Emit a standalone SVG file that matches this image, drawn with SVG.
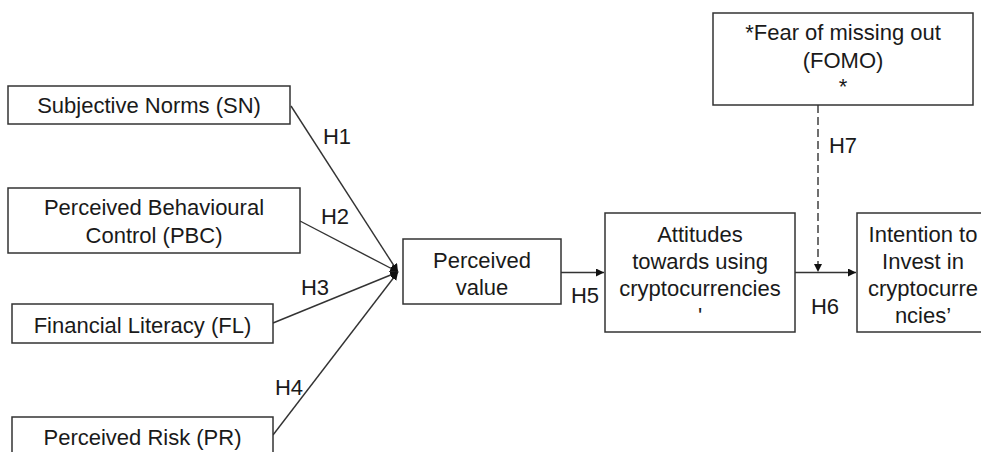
<svg xmlns="http://www.w3.org/2000/svg" width="981" height="452" viewBox="0 0 981 452">
<style>
.box{fill:#fff;stroke:#333;stroke-width:1.5}
.t{font-family:"Liberation Sans",Arial,sans-serif;font-size:22px;fill:#1a1a1a;text-anchor:middle}
.ln{stroke:#333;stroke-width:1.4;fill:none}
.dash{stroke:#333;stroke-width:1.4;fill:none;stroke-dasharray:8,4}
</style>
<defs>
<marker id="ah" viewBox="0 0 10 10" refX="10" refY="5" markerWidth="8" markerHeight="8" markerUnits="userSpaceOnUse" orient="auto">
<path d="M0,0 L10,5 L0,10 z" fill="#111"/>
</marker>
</defs>
<rect width="981" height="452" fill="#fff"/>
<g id="connectors">
<line class="ln" x1="291" y1="106" x2="398" y2="272" marker-end="url(#ah)"/>
<line class="ln" x1="300" y1="221" x2="398" y2="272" marker-end="url(#ah)"/>
<line class="ln" x1="273" y1="323" x2="398" y2="272" marker-end="url(#ah)"/>
<line class="ln" x1="273" y1="435" x2="398" y2="272" marker-end="url(#ah)"/>
<line class="ln" x1="561" y1="272.5" x2="604" y2="272.5" marker-end="url(#ah)"/>
<line class="ln" x1="795" y1="272.5" x2="856" y2="272.5" marker-end="url(#ah)"/>
<line class="dash" x1="818" y1="105" x2="818" y2="272" marker-end="url(#ah)"/>
<text class="t" x="337" y="144">H1</text>
<text class="t" x="335" y="224">H2</text>
<text class="t" x="315" y="295">H3</text>
<text class="t" x="289" y="395">H4</text>
<text class="t" x="585" y="303">H5</text>
<text class="t" x="825" y="314">H6</text>
<text class="t" x="843" y="153">H7</text>
</g>
<g id="sn">
<rect class="box" x="8" y="86" width="282" height="38"/>
<text class="t" x="149" y="113">Subjective Norms (SN)</text>
</g>
<g id="pbc">
<rect class="box" x="8" y="188" width="292" height="65"/>
<text class="t" x="154" y="215">Perceived Behavioural</text>
<text class="t" x="154" y="243">Control (PBC)</text>
</g>
<g id="fl">
<rect class="box" x="12" y="304" width="261" height="39"/>
<text class="t" x="142.5" y="333">Financial Literacy (FL)</text>
</g>
<g id="pr">
<rect class="box" x="12" y="417" width="261" height="45"/>
<text class="t" x="142.5" y="445">Perceived Risk (PR)</text>
</g>
<g id="pv">
<rect class="box" x="403" y="239" width="158" height="65"/>
<text class="t" x="482" y="268">Perceived</text>
<text class="t" x="482" y="295">value</text>
</g>
<g id="att">
<rect class="box" x="605" y="213" width="190" height="119"/>
<text class="t" x="700" y="242">Attitudes</text>
<text class="t" x="700" y="269">towards using</text>
<text class="t" x="700" y="296">cryptocurrencies</text>
<text class="t" x="700" y="323">'</text>
</g>
<g id="int">
<rect class="box" x="857" y="213" width="140" height="119"/>
<text class="t" x="923" y="242">Intention to</text>
<text class="t" x="923" y="269">Invest in</text>
<text class="t" x="923" y="296">cryptocurre</text>
<text class="t" x="923" y="323">ncies’</text>
</g>
<g id="fomo">
<rect class="box" x="713" y="13" width="260" height="92"/>
<text class="t" x="843" y="40">*Fear of missing out</text>
<text class="t" x="843" y="68">(FOMO)</text>
<text class="t" x="843" y="94">*</text>
</g>
</svg>
